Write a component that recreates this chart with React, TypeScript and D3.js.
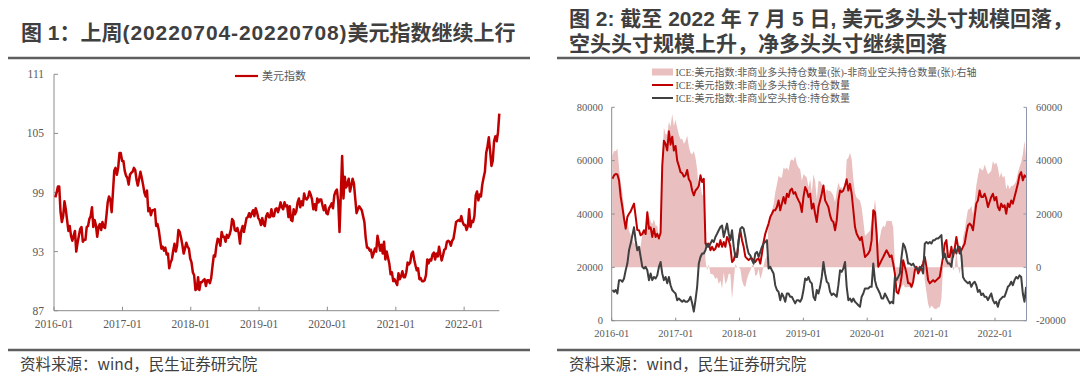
import React from 'react';
import * as d3 from 'd3';

// ---------- Figure 1: US dollar index, weekly (Fridays from 2016-01-08) ----------
const dxy2016 = [98.5, 99.0, 99.6, 99.6, 97.0, 96.0, 96.6, 98.1, 97.3, 96.2, 95.1, 95.6, 94.6, 94.1, 94.6, 95.1, 93.0, 93.9, 94.6, 95.3, 95.5, 94.0, 94.2, 94.2, 95.5, 95.6, 96.3, 96.6, 97.5, 95.5, 96.2, 95.7, 94.5, 95.5, 95.8, 95.2, 96.0, 95.5, 95.4, 96.6, 98.0, 98.6, 98.3, 97.0, 99.0, 101.2, 101.5, 100.8, 101.5, 103.0, 103.0, 102.2];
const dxy2017 = [102.2, 101.2, 100.7, 100.5, 99.8, 100.8, 101.0, 101.1, 101.5, 101.3, 100.3, 99.7, 100.4, 101.1, 100.5, 99.8, 99.0, 98.6, 99.2, 97.1, 97.4, 96.7, 97.2, 97.2, 97.3, 95.6, 95.8, 95.2, 94.2, 93.3, 93.5, 93.1, 93.4, 92.7, 92.8, 91.3, 91.9, 92.2, 93.1, 93.8, 93.0, 93.6, 95.2, 95.0, 94.4, 93.7, 92.8, 93.3, 93.9, 93.5, 93.3, 92.3];
const dxy2018 = [91.9, 90.9, 90.6, 89.1, 89.2, 90.4, 89.1, 89.9, 89.9, 90.1, 90.2, 89.5, 90.1, 90.1, 89.8, 90.3, 91.5, 92.6, 92.5, 93.6, 94.3, 94.2, 93.6, 95.0, 94.5, 94.5, 94.0, 94.7, 94.4, 94.7, 95.2, 96.3, 96.1, 95.2, 95.1, 95.4, 94.9, 93.8, 95.1, 95.6, 95.0, 95.7, 96.4, 96.5, 96.9, 96.5, 96.9, 97.2, 96.6, 97.4, 97.0, 96.4];
const dxy2019 = [96.2, 95.7, 96.4, 95.8, 95.6, 96.6, 96.9, 96.5, 96.5, 97.3, 96.6, 96.6, 97.3, 97.4, 97.0, 97.4, 98.0, 97.5, 97.3, 98.0, 97.6, 97.7, 96.5, 97.6, 96.2, 96.1, 97.3, 96.8, 97.1, 98.0, 98.4, 97.5, 98.1, 97.7, 98.9, 98.4, 98.3, 98.5, 99.1, 98.8, 98.3, 97.3, 97.8, 97.2, 98.4, 98.0, 98.3, 98.3, 97.7, 97.2, 97.7, 96.9];
const dxy2020 = [96.8, 97.4, 97.6, 97.9, 97.4, 98.7, 99.1, 99.3, 98.1, 95.0, 98.8, 102.7, 98.4, 100.6, 99.5, 99.8, 100.4, 99.1, 99.7, 100.4, 99.9, 98.4, 96.9, 97.3, 97.6, 97.4, 97.2, 96.6, 96.0, 94.4, 93.4, 93.4, 93.1, 93.2, 92.4, 92.8, 93.3, 93.0, 94.6, 93.9, 93.1, 93.7, 92.8, 94.0, 92.2, 93.0, 92.4, 91.8, 90.7, 90.9, 90.0, 90.2];
const dxy2021 = [89.9, 89.6, 90.8, 90.2, 90.5, 91.0, 90.4, 90.4, 90.9, 91.9, 91.7, 91.9, 92.8, 93.0, 92.2, 91.6, 91.1, 91.3, 90.2, 90.3, 90.0, 90.0, 90.1, 90.6, 92.2, 91.8, 92.2, 92.1, 92.7, 92.9, 92.2, 92.8, 92.5, 93.5, 92.7, 92.1, 92.6, 93.2, 93.3, 94.0, 94.1, 94.0, 93.6, 94.1, 94.3, 95.1, 96.0, 96.1, 96.2, 96.1, 96.6, 96.0, 95.7];
const dxy2022 = [95.7, 95.2, 95.6, 97.3, 95.5, 96.1, 96.0, 96.6, 98.7, 99.1, 98.2, 98.8, 98.6, 99.8, 100.5, 101.1, 103.0, 103.7, 104.6, 103.2, 101.7, 102.2, 104.2, 104.7, 104.2, 105.1, 107.0];

const dxyTicks = [87, 93, 99, 105, 111];
const yearLabels = ['2016-01', '2017-01', '2018-01', '2019-01', '2020-01', '2021-01', '2022-01'];

// ---------- Figure 2: ICE dollar index non-commercial positions (weekly) ----------
const longPos = [
  53200, 54500, 55000, 54800, 52600, 46400, 42600, 38300, 34500, 38900,
  40100, 41000, 42500, 43900, 39000, 34000, 33900, 32000, 32500, 33900,
  32500, 40700, 34500, 35000, 31400, 34500, 31400, 32600, 30800, 33000,
  58000, 67500, 66300, 63800, 71000, 66000, 69000, 63800, 65500, 60000,
  58000, 55700, 55300, 54000, 54500, 56500, 53000, 52000, 48800, 47000,
  48800, 49500, 50500, 54500, 52000, 53200, 29000, 27700, 28900, 26400,
  27700, 26400, 27000, 28900, 27700, 30200, 27700, 29500, 27700, 31400,
  30200, 27700, 22000, 22700, 25200, 24000, 30200, 33900, 30200, 27700,
  24000, 23300, 22700, 23300,
  23300, 22700, 22000, 23000, 23300, 21400, 25200, 29500, 32600, 34500,
  36400, 38900, 40100, 41400, 41400, 42600, 45100, 41400, 43900, 46400,
  43900, 47600, 46400, 48800, 49500, 47600, 48200, 46400, 45100, 43900,
  40700, 46400, 50100, 48800, 46400, 47600, 42000, 43900, 40100, 37000,
  42600, 45100, 47600, 50700, 45100, 43900, 42600, 39500, 37600, 37000,
  33900, 37600, 45100, 48800, 48200, 48800, 50700, 53000, 48800, 51300,
  47600, 41400, 35100, 32600, 31400, 30200, 31400, 27700, 23900, 24500,
  25200, 26400, 30200, 41400, 40700, 32600, 20200, 21400, 22700, 23900,
  25200, 26400, 25200, 23900, 24500, 21400, 17700, 10800, 10200, 12700,
  16400, 22700, 20200, 17700, 14000, 14000, 12700, 14600, 18900, 20200,
  17700, 18900, 20200, 21400, 23900, 20200, 15200, 14000, 14600, 15200,
  14600, 15200, 15800, 16400, 20200, 23900, 28900, 30200, 23900, 23900,
  27700, 23900, 27000, 31400, 27700, 25200, 26400, 27700, 28900, 32600,
  35700, 36400, 35700, 33900, 38900, 43900, 45100, 48800, 46400, 46400,
  47600, 45700, 42600, 44500, 46400, 47600, 45100, 46400, 42600, 41400,
  43900, 42600, 43300, 40100, 43900, 42600, 45100, 43900, 46400, 48800,
  51300, 54500, 55700, 52600, 54500, 53800,
];
const shortPos = [
  11500, 10800, 11500, 10200, 15200, 15200, 14600, 15800, 18900, 21400,
  26400, 28900, 32000, 35000, 30000, 26400, 27700, 23900, 20200, 19600,
  20200, 18900, 15200, 17700, 15200, 16400, 15800, 17000, 20200, 22000,
  17700, 15200, 16400, 14000, 16400, 13300, 11500, 10800, 10200, 7700,
  8300, 7700, 7100, 7700, 7100, 7100, 7700, 9000, 6500, 3400,
  7700, 12700, 21400, 23900, 25200, 25200, 26400, 28900, 27700, 28900,
  30200, 29500, 31400, 32600, 33900, 35100, 35700, 31400, 33900, 36400,
  32600, 30200, 33900, 27700, 23900, 23900, 30200, 34500, 35100, 34500,
  31400, 27700, 25200, 24500,
  22700, 21400, 25200, 25800, 23900, 25800, 27700, 29000, 29500, 30200,
  19600, 20200, 18900, 17700, 13300, 11500, 10800, 7700, 10200, 9000,
  7100, 10200, 10200, 9000, 9000, 7700, 6500, 7700, 7700, 7100,
  8300, 11500, 15800, 15200, 16400, 14600, 14000, 9000, 7700, 11500,
  10200, 12700, 16400, 22000, 17700, 14600, 14000, 10800, 9600, 10200,
  9600, 9000, 13300, 18900, 18300, 19600, 22000, 12700, 7700, 8300,
  7100, 8300, 7100, 6500, 5800, 5200, 9000, 10200, 12100, 12100,
  12100, 12700, 12700, 21400, 15200, 12700, 11500, 10200, 8300, 8300,
  10200, 9000, 7700, 6500, 7100, 6500, 16400, 15200, 16400, 17700,
  23900, 28900, 27700, 25200, 21400, 21400, 20800, 21400, 20200, 19600,
  18900, 20200, 19600, 17700, 28900, 29500, 28900, 29500, 28900, 30200,
  30200, 30800, 30800, 31400, 32100, 23300, 25200, 22700, 21400, 21400,
  20200, 25200, 27000, 25200, 27700, 27700, 24500, 16400, 15200, 14600,
  14000, 14600, 12700, 14000, 14600, 13300, 10800, 11500, 9600, 10200,
  9000, 9000, 7700, 9000, 10200, 7700, 6500, 7100, 5200, 7700,
  8300, 9000, 9000, 10800, 12700, 13300, 14600, 13300, 15200, 16400,
  15800, 17000, 16400, 10200, 7100, 12700,
];
const posLeftTicks = [0, 20000, 40000, 60000, 80000];
const netRightTicks = [-20000, 0, 20000, 40000, 60000];

const legendLabels = [
  'ICE:美元指数:非商业多头持仓数量(张)-非商业空头持仓数量(张):右轴',
  'ICE:美元指数:非商业多头持仓:持仓数量',
  'ICE:美元指数:非商业空头持仓:持仓数量',
];

const SERIF = '"Times New Roman", "Liberation Serif", "Noto Sans CJK SC", serif';
const SANS = '"Microsoft YaHei", "Noto Sans CJK SC", sans-serif';
const TITLE = '"Liberation Sans", "Noto Sans CJK SC", sans-serif';
const RED = '#c00000';
const DARK = '#404040';
const PINK = '#e9bfbf';
const AXIS = '#8c8c8c';
const LABEL = '#595959';

type Pt = { d: Date; v: number };

export default function App() {
  // ----- data for figure 1 -----
  const dxyAll = [...dxy2016, ...dxy2017, ...dxy2018, ...dxy2019, ...dxy2020, ...dxy2021, ...dxy2022];
  const dxyStart = new Date(2016, 0, 8);
  const dxyData: Pt[] = dxyAll.map((v, i) => ({ d: d3.timeDay.offset(dxyStart, 7 * i), v }));

  const xL = d3.scaleTime().domain([new Date(2016, 0, 1), new Date(2022, 6, 8)]).range([54, 499.3]);
  const yL = d3.scaleLinear().domain([87, 111]).range([310.7, 74.3]);
  const lineL = d3.line<Pt>().x((p) => xL(p.d)).y((p) => yL(p.v));

  // ----- data for figure 2 -----
  const n = Math.min(longPos.length, shortPos.length);
  const pStart = new Date(2016, 0, 5).getTime();
  const pEnd = new Date(2022, 5, 28).getTime();
  const pDates = d3.range(n).map((i) => new Date(pStart + (i * (pEnd - pStart)) / (n - 1)));
  const longData: Pt[] = pDates.map((d, i) => ({ d, v: longPos[i] }));
  const shortData: Pt[] = pDates.map((d, i) => ({ d, v: shortPos[i] }));
  const netData: Pt[] = pDates.map((d, i) => ({ d, v: longPos[i] - shortPos[i] }));

  const xR = d3.scaleTime().domain([new Date(2016, 0, 1), new Date(2022, 5, 30)]).range([611.7, 1026.5]);
  const yPos = d3.scaleLinear().domain([0, 80000]).range([320.7, 107.3]);
  const yNet = d3.scaleLinear().domain([-20000, 60000]).range([320.7, 107.3]);
  const linePos = d3.line<Pt>().x((p) => xR(p.d)).y((p) => yPos(p.v));
  const areaNet = d3
    .area<Pt>()
    .x((p) => xR(p.d))
    .y0(yNet(0))
    .y1((p) => yNet(p.v));

  const tickDates = yearLabels.map((s) => new Date(+s.slice(0, 4), +s.slice(5, 7) - 1, 1));

  const [l0, l1] = xL.range();
  const [r0, r1] = xR.range();

  return (
    <svg width={1080} height={377} style={{ position: 'absolute', left: 0, top: 0, background: '#fff' }}>
      <rect x={0} y={0} width={1080} height={377} fill="#fff" />

      {/* ================= Figure 1 ================= */}
      <text x={21} y={40} fontFamily={TITLE} fontWeight="bold" fontSize={21} fill="#3f3f3f">
        图 1：上周<tspan letterSpacing={0.9}>(20220704-20220708)</tspan>美元指数继续上行
      </text>
      <line x1={8} x2={530} y1={58} y2={58} stroke="#5f5f5f" strokeWidth={2.5} />

      {/* axes */}
      <line x1={l0} x2={l0} y1={yL(111)} y2={yL(87)} stroke={AXIS} strokeWidth={1} />
      <line x1={l0} x2={l1} y1={yL(87)} y2={yL(87)} stroke={AXIS} strokeWidth={1} />
      {dxyTicks.map((t) => (
        <g key={'ly' + t}>
          <line x1={l0} x2={l0 + 4} y1={yL(t)} y2={yL(t)} stroke={AXIS} />
          <text x={l0 - 10} y={yL(t)} textAnchor="end" dominantBaseline="central" fontFamily={SERIF} fontSize={11.5} fill={LABEL}>
            {t}
          </text>
        </g>
      ))}
      {tickDates.map((d, i) => (
        <g key={'lx' + i}>
          <line x1={xL(d)} x2={xL(d)} y1={yL(87)} y2={yL(87) - 4} stroke={AXIS} />
          <text x={xL(d)} y={324} textAnchor="middle" dominantBaseline="central" fontFamily={SERIF} fontSize={11.5} fill={LABEL}>
            {yearLabels[i]}
          </text>
        </g>
      ))}
      <path d={lineL(dxyData) || ''} fill="none" stroke={RED} strokeWidth={2.5} strokeLinejoin="round" />

      {/* legend */}
      <line x1={235} x2={258} y1={76} y2={76} stroke={RED} strokeWidth={2.2} />
      <text x={262} y={76} dominantBaseline="central" fontFamily={SERIF} fontSize={11} fill={LABEL}>
        美元指数
      </text>

      <line x1={8} x2={530} y1={350} y2={350} stroke="#5f5f5f" strokeWidth={2.5} />
      <text x={20} y={363} dominantBaseline="central" fontFamily={SANS} fontSize={15.5} fill="#404040">
        资料来源：wind，民生证券研究院
      </text>

      {/* ================= Figure 2 ================= */}
      <text x={569} y={26} fontFamily={TITLE} fontWeight="bold" fontSize={21} fill="#3f3f3f">
        图 2: 截至 2022 年 7 月 5 日, 美元多头头寸规模回落，
      </text>
      <text x={569} y={51} fontFamily={TITLE} fontWeight="bold" fontSize={21} fill="#3f3f3f">
        空头头寸规模上升，净多头头寸继续回落
      </text>
      <line x1={557} x2={1080} y1={58} y2={58} stroke="#5f5f5f" strokeWidth={2.5} />

      <path d={areaNet(netData) || ''} fill={PINK} stroke="none" />
      <path d={linePos(longData) || ''} fill="none" stroke={RED} strokeWidth={2} strokeLinejoin="round" />
      <path d={linePos(shortData) || ''} fill="none" stroke={DARK} strokeWidth={2} strokeLinejoin="round" />

      {/* axes */}
      <line x1={r0} x2={r0} y1={yPos(80000)} y2={yPos(0)} stroke={AXIS} />
      <line x1={r1} x2={r1} y1={yNet(60000)} y2={yNet(-20000)} stroke="#8f95ad" />
      <line x1={r0} x2={r1} y1={yPos(0)} y2={yPos(0)} stroke={AXIS} />
      {posLeftTicks.map((t) => (
        <g key={'rl' + t}>
          <line x1={r0} x2={r0 + 3} y1={yPos(t)} y2={yPos(t)} stroke={AXIS} />
          <text x={603} y={yPos(t)} textAnchor="end" dominantBaseline="central" fontFamily={SERIF} fontSize={10.5} fill={LABEL}>
            {t}
          </text>
        </g>
      ))}
      {netRightTicks.map((t) => (
        <g key={'rr' + t}>
          <line x1={r1 - 3} x2={r1} y1={yNet(t)} y2={yNet(t)} stroke="#8f95ad" />
          <text x={1036} y={yNet(t)} textAnchor="start" dominantBaseline="central" fontFamily={SERIF} fontSize={10.5} fill={LABEL}>
            {t}
          </text>
        </g>
      ))}
      {tickDates.map((d, i) => (
        <g key={'rx' + i}>
          <line x1={xR(d)} x2={xR(d)} y1={yPos(0)} y2={yPos(0) - 3} stroke={AXIS} />
          <text x={xR(d)} y={333} textAnchor="middle" dominantBaseline="central" fontFamily={SERIF} fontSize={10.5} fill={LABEL}>
            {yearLabels[i]}
          </text>
        </g>
      ))}

      {/* legend */}
      <rect x={652} y={68.5} width={21} height={7} fill={PINK} />
      <line x1={652} x2={673} y1={85} y2={85} stroke={RED} strokeWidth={2} />
      <line x1={652} x2={673} y1={98} y2={98} stroke={DARK} strokeWidth={2} />
      {legendLabels.map((s, i) => (
        <text key={'lg' + i} x={675.5} y={72 + i * 13} dominantBaseline="central" fontFamily={SERIF} fontSize={10} fill={LABEL}>
          {s}
        </text>
      ))}

      <line x1={557} x2={1080} y1={350} y2={350} stroke="#5f5f5f" strokeWidth={2.5} />
      <text x={569} y={363} dominantBaseline="central" fontFamily={SANS} fontSize={15.5} fill="#404040">
        资料来源：wind，民生证券研究院
      </text>
    </svg>
  );
}
